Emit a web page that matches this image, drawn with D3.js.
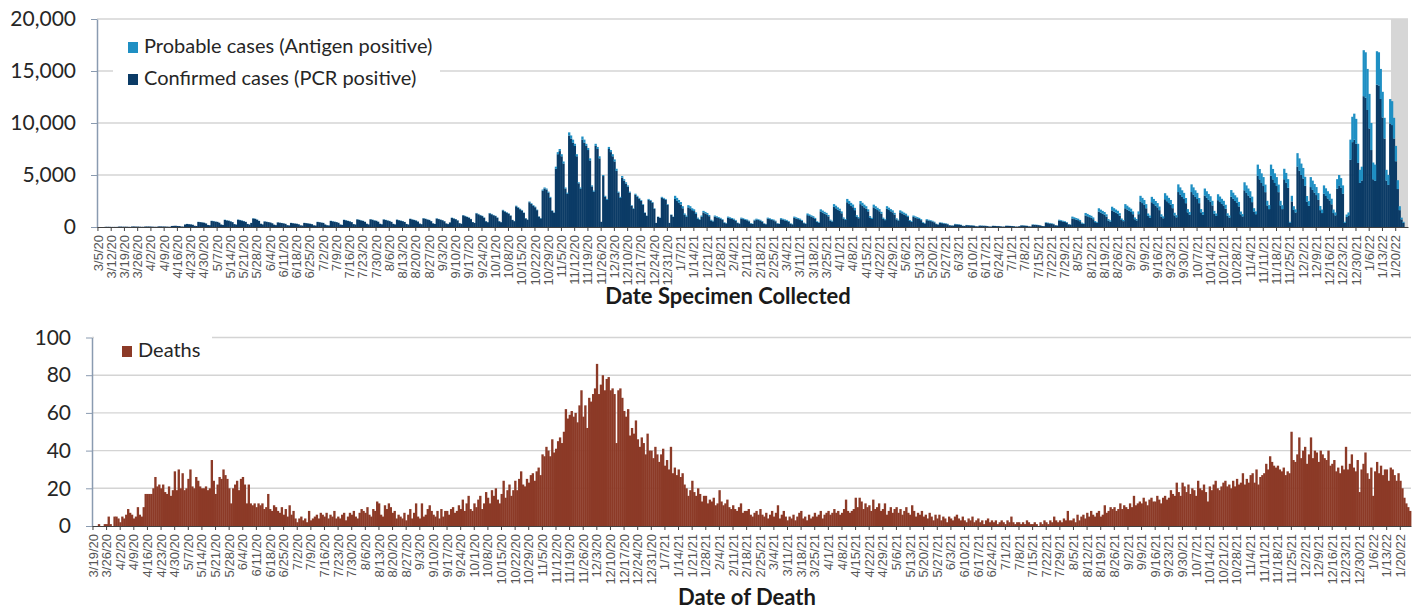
<!DOCTYPE html>
<html>
<head>
<meta charset="utf-8">
<script src="https://cdn.jsdelivr.net/npm/d3@7"></script>
<style>
  body { margin: 0; background: #fff; }
  svg { display: block; }
  text { font-family: Lato, "Open Sans", sans-serif; }
</style>
</head>
<body>
<svg id="chart" width="1414" height="610"></svg>
<script>
// daily cases by date specimen collected, in hundreds of cases
// first line is Thu 3/5/20 - Sun 3/8/20, then one line per week Mon-Sun
const caseStart = new Date(Date.UTC(2020, 2, 5));
const caseAxisEnd = new Date(Date.UTC(2022, 0, 27));
const grayFrom = new Date(Date.UTC(2022, 0, 18));

const confirmed = [
  0,0,0,0,
  0.2,0.2,0.2,0.1,0.1,0.1,0.1,
  0.4,0.4,0.3,0.3,0.3,0.2,0.1,
  0.5,0.5,0.4,0.4,0.3,0.2,0.2,
  0.5,0.5,0.5,0.4,0.3,0.2,0.2,
  0.6,0.6,0.5,0.5,0.4,0.3,0.2,
  1.0,1.1,1.2,1.0,0.9,0.5,0.4,
  2.4,2.9,2.7,2.5,2.1,1.2,1.0,      // 4/20
  4.8,4.7,4.4,4.1,3.4,1.9,1.7,
  5.8,5.6,5.1,4.9,4.1,2.4,1.9,
  6.8,6.3,6.0,5.4,4.7,2.8,2.3,
  7.0,6.6,6.1,5.6,4.9,2.9,2.4,
  3.9,8.2,7.8,7.0,5.8,3.1,2.5,      // 5/25
  5.3,5.0,4.7,4.3,3.6,2.2,1.8,
  4.4,4.1,3.8,3.5,3.0,1.8,1.5,
  3.9,3.6,3.3,3.1,2.6,1.6,1.4,
  3.9,3.7,3.4,3.1,2.7,1.6,1.4,
  4.8,4.6,4.2,3.9,2.4,1.7,1.5,      // 6/29
  5.8,5.4,5.0,4.7,4.0,2.4,2.0,
  6.8,6.4,5.8,5.4,4.7,2.8,2.4,
  7.3,6.8,6.3,5.8,4.9,3.1,2.5,
  7.4,6.9,6.3,5.9,5.0,3.1,2.6,
  7.2,6.7,6.2,5.7,4.9,3.0,2.5,      // 8/3
  7.0,6.5,6.0,5.6,4.8,2.9,2.4,
  7.8,7.2,6.7,6.2,5.2,3.3,2.7,
  8.3,7.8,7.2,6.7,5.6,3.5,2.9,
  8.1,7.6,7.0,6.5,5.5,3.4,2.8,
  4.4,8.7,8.1,7.5,6.3,3.7,3.1,      // 9/7
  11.2,10.4,9.6,8.9,7.6,4.7,3.9,
  13.1,12.2,11.3,10.5,8.9,5.5,4.6,
  13.1,12.2,11.3,10.5,8.9,5.5,4.6,
  16.0,14.8,13.8,12.8,10.9,6.7,5.6, // 10/5
  19.9,18.5,17.1,15.9,13.5,8.3,7.0,
  23.8,22.1,20.5,19.0,16.2,10.0,8.3,
  35,37,36,33,28,15.5,13.6,
  56,70,73,68,61,37,32,             // 11/2
  88,85,81,78,68,42,37,
  84,81,78,74,64,39,34,
  78,75,66,5,49,29,26,
  75,72,68,63,54,33,28,
  47.5,44.6,41.7,38.8,33,20.4,17.5, // 12/7
  31,29,27.2,25.2,21.3,13.6,10.7,
  26.2,25.2,23.3,17.5,3.9,9.7,8.7,
  28.1,27.2,26.2,21.3,3.9,11.6,9.7,
  27,25.2,23.4,21.6,18,11.7,9.9,    // 1/4/21
  18.9,18,16.2,15.3,12.6,8.1,6.8,
  9.9,14,13,12.2,10.4,6.3,5.4,
  9.9,9.3,8.6,7.9,6.8,4.1,3.5,
  9,8.4,7.7,7.2,6.1,3.8,3.2,        // 2/1
  8.1,7.6,6.9,6.5,5.5,3.4,2.9,
  6.3,7.2,6.7,6.2,5.2,3.2,2.7,
  8.1,7.6,6.9,6.5,5.5,3.4,2.9,
  7.5,7,6.4,6,5.1,3.2,2.6,          // 3/1
  8.8,8.2,7.6,7,6,3.7,3.1,
  11.4,10.6,9.9,9.2,7.7,4.8,4,
  15,13.9,12.8,12,10.2,6.2,5.3,
  19.4,18,16.6,15.5,13.2,8.1,6.8,
  23.8,22.1,20.4,19,16.2,9.9,8.4,   // 4/5
  22,20.5,18.9,17.6,15,9.2,7.7,
  18.9,17.6,16.3,15.1,12.8,7.9,6.6,
  17.6,16.4,15.1,14.1,12,7.4,6.2,
  14.1,13.1,12.1,11.3,9.6,5.9,4.9,  // 5/3
  9.7,9,8.4,7.7,6.6,4,3.4,
  6.6,6.2,5.7,5.3,4.5,2.8,2.3,
  4,3.7,3.4,3.2,2.7,1.7,1.4,
  1.3,2.6,2.5,2.3,1.9,1.1,1,
  1.8,1.7,1.5,1.4,1.2,0.7,0.6,      // 6/7
  1.3,1.2,1.1,1.1,0.9,0.5,0.4,
  1.1,1,0.9,0.9,0.7,0.4,0.4,
  1.1,1.1,1,0.9,0.8,0.4,0.4,
  0.8,1.5,1.4,1.2,1.1,0.6,0.5,      // 7/5
  2.2,2,1.9,1.8,1.5,0.9,0.8,
  4,3.7,3.4,3.2,2.7,1.7,1.4,
  6.2,5.7,5.3,4.9,4.2,2.6,2.2,
  8.2,7.6,7.1,6.6,5.6,3.4,2.9,      // 8/2
  11.1,10.3,9.5,8.9,7.5,4.7,3.9,
  14.8,13.7,12.7,11.8,10,6.2,5.2,
  16,14.8,13.8,12.8,10.9,6.7,5.6,
  18,16.8,15.5,14.4,12.3,7.5,6.3,
  12.3,24.6,23,21.3,18,10.7,9,      // 9/6
  23.8,22.1,20.5,18.9,16.2,10,8.4,
  26.7,24.8,23,21.3,18.1,11.2,9.3,
  33.6,31.2,28.9,26.9,22.9,14.1,11.8,
  33.6,31.2,28.9,26.9,22.9,14.1,11.8, // 10/4
  30.3,28.2,26.1,24.3,20.7,12.7,10.7,
  25.8,24,22.2,20.7,17.5,10.8,9,
  29.1,27.1,25,23.3,19.8,12.2,10.2,
  35.3,32.8,30.3,28.2,23.9,14.8,12.3, // 11/1
  49.2,45.8,42.3,39.4,33.5,20.7,17.2,
  49.2,45.8,42.3,39.4,33.5,20.7,17.2,
  45.9,42.6,37.7,4.1,24.6,16.4,13.9,
  58.2,54.1,50,46.6,39.6,24.4,20.4,
  38.4,35.7,33,30.7,26.1,16.2,13.4,   // 12/6
  32,29.8,27.5,25.6,21.8,13.4,11.2,
  36.8,40,37.6,32,4,9.6,11.2,
  64.7,81.6,83.9,80,61.6,42.4,44.7,
  125.8,124.3,112.5,94.7,74,45.9,44.4, // 1/3/22
  136.9,136.1,123.1,105.3,85,44.6,40.5,
  99.6,98,85,63.2,36.5,16.2,7.3,
  4
];

const probable = [
  0,0,0,0,
  0,0,0,0,0,0,0,
  0,0,0,0,0,0,0,
  0,0,0,0,0,0,0,
  0,0,0,0,0,0,0,
  0,0,0,0,0,0,0,
  0,0,0,0,0,0,0,
  0.1,0.1,0.1,0.1,0.1,0,0,          // 4/20
  0.2,0.1,0.1,0.1,0.1,0.1,0.1,
  0.2,0.2,0.2,0.1,0.1,0.1,0.1,
  0.2,0.2,0.2,0.2,0.1,0.1,0.1,
  0.2,0.2,0.2,0.2,0.1,0.1,0.1,
  0.1,0.3,0.2,0.2,0.2,0.1,0.1,      // 5/25
  0.2,0.1,0.1,0.1,0.1,0.1,0.1,
  0.1,0.1,0.1,0.1,0.1,0.1,0.1,
  0.1,0.1,0.1,0.1,0.1,0.1,0,
  0.1,0.1,0.1,0.1,0.1,0.1,0,
  0.2,0.1,0.1,0.1,0.1,0.1,0.1,      // 6/29
  0.2,0.2,0.2,0.1,0.1,0.1,0.1,
  0.2,0.2,0.2,0.2,0.1,0.1,0.1,
  0.2,0.2,0.2,0.2,0.2,0.1,0.1,
  0.2,0.2,0.2,0.2,0.2,0.1,0.1,
  0.2,0.2,0.2,0.2,0.1,0.1,0.1,      // 8/3
  0.2,0.2,0.2,0.2,0.1,0.1,0.1,
  0.2,0.2,0.2,0.2,0.2,0.1,0.1,
  0.3,0.2,0.2,0.2,0.2,0.1,0.1,
  0.3,0.2,0.2,0.2,0.2,0.1,0.1,
  0.1,0.3,0.3,0.2,0.2,0.1,0.1,      // 9/7
  0.3,0.3,0.3,0.3,0.2,0.1,0.1,
  0.4,0.4,0.3,0.3,0.3,0.2,0.1,
  0.4,0.4,0.3,0.3,0.3,0.2,0.1,
  0.5,0.5,0.4,0.4,0.3,0.2,0.2,      // 10/5
  0.6,0.6,0.5,0.5,0.4,0.3,0.2,
  0.7,0.7,0.6,0.6,0.5,0.3,0.3,
  1,1,1,1,1,0.5,0.4,
  2,2,2,2,2,1,1,                    // 11/2
  3,3,3,2,2,1,1,
  3,3,2,2,2,1,1,
  2,2,2,0,1,1,1,
  2,2,2,2,2,1,1,
  1.5,1.4,1.3,1.2,1,0.6,0.5,        // 12/7
  1,1,0.8,0.8,0.7,0.4,0.3,
  0.8,0.8,0.7,0.5,0.1,0.3,0.3,
  0.9,0.8,0.8,0.7,0.1,0.4,0.3,
  3,2.8,2.6,2.4,2,1.3,1.1,          // 1/4/21
  2.1,2,1.8,1.7,1.4,0.9,0.7,
  1.1,1.5,1.5,1.3,1.1,0.7,0.6,
  1.1,1,0.9,0.9,0.7,0.5,0.4,
  1,0.9,0.9,0.8,0.7,0.4,0.3,        // 2/1
  0.9,0.8,0.8,0.7,0.6,0.4,0.3,
  0.7,0.8,0.7,0.7,0.6,0.4,0.3,
  0.9,0.8,0.8,0.7,0.6,0.4,0.3,
  1,0.9,0.9,0.8,0.7,0.4,0.4,        // 3/1
  1.2,1.1,1,1,0.8,0.5,0.4,
  1.6,1.5,1.3,1.2,1.1,0.7,0.6,
  2,1.9,1.8,1.6,1.4,0.9,0.7,
  2.6,2.5,2.3,2.1,1.8,1.1,0.9,
  3.2,3,2.8,2.6,2.2,1.4,1.1,        // 4/5
  3,2.8,2.6,2.4,2,1.3,1.1,
  2.6,2.4,2.2,2.1,1.8,1.1,0.9,
  2.4,2.2,2.1,1.9,1.6,1,0.8,
  1.9,1.8,1.7,1.5,1.3,0.8,0.7,      // 5/3
  1.3,1.2,1.1,1.1,0.9,0.6,0.5,
  0.9,0.8,0.8,0.7,0.6,0.4,0.3,
  0.5,0.5,0.5,0.4,0.4,0.2,0.2,
  0.2,0.4,0.3,0.3,0.3,0.2,0.1,
  0.2,0.2,0.2,0.2,0.2,0.1,0.1,      // 6/7
  0.2,0.2,0.2,0.1,0.1,0.1,0.1,
  0.1,0.1,0.1,0.1,0.1,0.1,0,
  0.2,0.1,0.1,0.1,0.1,0.1,0,
  0.1,0.2,0.2,0.2,0.1,0.1,0.1,      // 7/5
  0.3,0.3,0.3,0.2,0.2,0.1,0.1,
  0.5,0.5,0.5,0.4,0.4,0.2,0.2,
  0.8,0.8,0.7,0.7,0.6,0.3,0.3,
  1.8,1.7,1.5,1.4,1.2,0.8,0.6,      // 8/2
  2.4,2.3,2.1,1.9,1.7,1,0.8,
  3.2,3,2.8,2.6,2.2,1.4,1.1,
  3.5,3.3,3,2.8,2.4,1.5,1.2,
  4,3.7,3.4,3.2,2.7,1.7,1.4,
  2.7,5.4,5,4.7,4,2.3,2,            // 9/6
  5.2,4.9,4.5,4.1,3.5,2.2,1.8,
  5.8,5.4,5,4.7,4,2.5,2.1,
  7.4,6.9,6.4,5.9,5,3.1,2.6,
  7.4,6.9,6.4,5.9,5,3.1,2.6,        // 10/4
  6.7,6.2,5.7,5.3,4.5,2.8,2.3,
  5.7,5.3,4.9,4.5,3.9,2.4,2,
  6.4,5.9,5.5,5.1,4.3,2.7,2.2,
  7.7,7.2,6.7,6.2,5.3,3.3,2.7,      // 11/1
  10.8,10,9.3,8.6,7.3,4.5,3.8,
  10.8,10,9.3,8.6,7.3,4.5,3.8,
  10.1,9.4,8.3,0.9,5.4,3.6,3.1,
  12.8,11.9,11,10.2,8.7,5.4,4.5,
  9.6,8.9,8.3,7.7,6.5,4,3.4,        // 12/6
  8,7.4,6.9,6.4,5.4,3.4,2.8,
  9.2,10,9.4,8,1,2.4,2.8,
  19.3,24.4,25.1,24,18.4,12.6,13.3,
  44.2,43.7,39.5,33.3,26,16.1,15.6, // 1/3/22
  32.1,31.9,28.9,24.7,20,10.4,9.5,
  23.4,23,20,14.8,8.5,3.8,1.7,
  1
];

// daily deaths by date of death, one line per week Thu-Wed from 3/19/20
const deathStart = new Date(Date.UTC(2020, 2, 19));
const deathAxisEnd = new Date(Date.UTC(2022, 0, 26));

const deaths = [
  0,0,0,1,0,0,1,
  1,5,1,0,5,5,4,
  2,5,4,6,9,7,6,
  4,5,10,6,5,10,17,
  17,17,17,20,26,21,22,      // 4/16/20
  20,22,18,17,21,16,19,
  29,19,30,20,28,19,20,
  25,30,21,20,26,24,21,
  20,20,21,19,20,35,24,      // 5/14
  17,22,26,25,30,27,25,
  20,12,20,22,24,19,25,
  26,22,12,22,12,11,12,
  10,12,11,12,9,10,17,       // 6/11
  9,8,11,10,8,7,10,
  6,9,5,11,6,8,4,
  2,4,5,3,4,2,8,
  3,4,5,6,4,7,6,             // 7/9
  5,7,4,6,5,8,4,
  5,4,6,7,3,5,7,
  6,8,5,4,7,9,8,
  7,10,6,5,9,8,13,           // 8/6
  12,6,5,11,9,12,10,
  7,8,4,6,5,4,7,
  3,6,9,4,7,12,5,
  4,12,5,6,9,11,8,           // 9/3
  6,5,8,4,9,5,8,
  8,6,9,10,7,8,11,
  9,14,8,12,16,9,8,
  12,10,14,16,9,12,18,       // 10/1
  15,12,19,16,20,14,12,
  17,24,15,19,22,16,19,
  24,19,25,29,22,21,25,
  23,27,28,24,29,31,27,      // 10/29
  38,37,42,40,37,46,39,
  41,45,47,44,50,62,57,
  59,61,58,60,55,64,72,
  58,64,52,68,66,70,73,      // 11/26
  86,70,75,80,72,78,79,
  72,73,70,44,72,73,68,
  61,58,62,48,52,49,56,
  46,42,47,44,38,49,40,      // 12/24
  40,36,42,38,34,38,41,
  32,35,30,42,28,31,27,
  30,26,28,22,20,16,19,
  24,18,16,20,17,13,16,      // 1/21/21
  16,12,14,13,15,11,12,
  19,13,11,12,14,10,9,
  11,9,8,10,12,7,8,
  8,9,6,5,7,8,6,             // 2/18
  9,6,5,7,4,6,8,
  5,7,11,4,6,8,5,
  3,5,4,6,3,5,7,
  8,4,5,3,6,4,5,             // 3/18
  7,5,6,8,4,6,7,
  8,6,7,9,7,8,6,
  7,9,14,8,7,8,9,
  15,10,15,13,9,12,10,       // 4/15
  11,8,14,9,10,12,8,
  9,12,6,8,10,7,9,
  10,7,9,6,8,10,7,
  6,11,8,5,7,6,8,            // 5/13
  5,6,4,7,5,3,6,
  4,6,3,5,4,2,5,
  4,3,5,6,4,3,5,
  3,2,4,3,5,2,3,             // 6/10
  4,2,3,1,3,4,2,
  3,2,3,1,2,3,2,
  1,3,2,5,2,1,2,
  2,1,2,1,3,2,1,             // 7/8
  1,2,1,0,2,1,3,
  2,1,3,2,5,3,2,
  3,2,4,3,8,3,3,
  4,2,6,3,5,6,4,             // 8/5
  7,5,8,6,5,7,8,
  5,6,11,7,8,10,9,
  10,8,9,12,9,11,10,
  9,12,10,16,11,12,13,       // 9/2
  12,15,13,11,14,15,13,
  13,16,14,12,15,16,14,
  15,19,17,16,23,18,16,
  23,21,18,22,17,20,19,      // 9/30
  16,24,20,19,22,18,13,
  21,19,22,24,20,19,21,
  23,24,21,22,20,24,21,
  25,22,23,28,22,25,23,      // 10/28
  27,28,23,30,22,26,27,
  28,33,30,37,34,32,31,
  32,30,29,31,27,29,28,
  50,35,34,38,47,36,40,      // 11/25
  42,33,38,47,36,40,39,
  34,40,38,36,35,40,32,
  33,35,29,31,28,32,30,
  42,30,33,38,31,29,35,      // 12/23
  18,30,33,39,28,25,31,
  16,29,34,28,32,27,30,
  30,24,31,30,27,24,28,
  24,20,15,12,10,8           // 1/20/22
];

const caseTicks = [0, 5000, 10000, 15000, 20000];
const deathTicks = [0, 20, 40, 60, 80, 100];
const caseLegend = ["Probable cases (Antigen positive)", "Confirmed cases (PCR positive)"];
const deathLegend = ["Deaths"];

const navy = "#0b3b66", lightBlue = "#1f8fc3", brick = "#8c3a27";
const fmtDate = d3.utcFormat("%-m/%-d/%y");
const svg = d3.select("#chart");

function drawPanel(o) {
  const days = d3.utcDay.range(o.start, o.axisEnd);
  const x = d3.scaleBand().domain(d3.range(days.length)).range([o.left, o.right]).padding(0);
  const y = d3.scaleLinear().domain([0, o.yMax]).range([o.bottom, o.top]);
  const g = svg.append("g");

  // grid
  g.selectAll(".grid").data(o.ticks.slice(1)).join("line")
    .attr("x1", o.left).attr("x2", o.right)
    .attr("y1", d => y(d)).attr("y2", d => y(d))
    .attr("stroke", "#d4d4d4").attr("stroke-width", 1.4);

  if (o.grayFrom) {
    const gi = d3.utcDay.count(o.start, o.grayFrom);
    g.append("rect").attr("x", x(gi)).attr("y", o.top)
      .attr("width", o.right - x(gi)).attr("height", o.bottom - o.top)
      .attr("fill", "#d6d6d6");
  }

  // legend box hides the grid under the legend
  g.append("rect").attr("x", o.legBox[0]).attr("y", o.legBox[1])
    .attr("width", o.legBox[2]).attr("height", o.legBox[3]).attr("fill", "#fff");

  const rows = o.series[0].values.map((v, i) => {
    const r = { i: i };
    o.series.forEach(s => r[s.key] = s.values[i] * s.unit);
    return r;
  });
  const stack = d3.stack().keys(o.series.map(s => s.key))(rows);

  g.selectAll(".layer").data(stack).join("g")
    .attr("fill", (d, k) => o.series[k].color)
    .selectAll("rect").data(d => d).join("rect")
      .attr("x", d => x(d.data.i))
      .attr("width", x.bandwidth() + 0.4)
      .attr("y", d => y(d[1]))
      .attr("height", d => Math.max(0, y(d[0]) - y(d[1])));

  // y axis
  const ya = g.append("g").attr("transform", `translate(${o.left},0)`)
    .call(d3.axisLeft(y).tickValues(o.ticks).tickSize(6).tickSizeOuter(0)
      .tickPadding(o.yPad).tickFormat(d3.format(",")));
  ya.select(".domain").attr("stroke", "#8a9bb0").attr("stroke-width", 1.5);
  ya.selectAll(".tick line").attr("stroke", "#8a9bb0");
  ya.selectAll(".tick text").attr("fill", "#262626").style("font-size", "21px")
    .style("font-family", "Lato, sans-serif");

  // x axis, one label per week
  const weekly = d3.range(0, days.length - 3, 7);
  const xa = g.append("g").attr("transform", `translate(0,${o.bottom})`)
    .call(d3.axisBottom(x).tickValues(weekly).tickSize(4).tickSizeOuter(0)
      .tickFormat(i => fmtDate(days[i])));
  xa.select(".domain").attr("stroke", "#404040").attr("stroke-width", 1.2);
  xa.selectAll(".tick line").attr("stroke", "#404040");
  xa.selectAll(".tick text")
    .attr("transform", "rotate(-90)")
    .attr("x", -8).attr("y", 0).attr("dy", "0.35em")
    .style("text-anchor", "end")
    .style("font-family", "'Liberation Sans', Arial, sans-serif")
    .style("font-size", "13px")
    .attr("fill", "#555");

  g.append("text").attr("x", o.titleX).attr("y", o.titleY)
    .attr("text-anchor", "middle").style("font-weight", "bold")
    .style("font-size", "22px").attr("fill", "#1a1a1a").text(o.title);

  // legend, in the order shown (top entry first)
  o.legend.forEach((lab, k) => {
    const s = o.series.find(s => s.label === lab);
    const ly = o.legY + k * 32;
    g.append("rect").attr("x", o.legX).attr("y", ly - 11).attr("width", 10).attr("height", 11)
      .attr("fill", s.color);
    g.append("text").attr("x", o.legX + 16).attr("y", ly)
      .style("font-size", "20px").attr("fill", "#262626").text(lab);
  });
}

drawPanel({
  start: caseStart, axisEnd: caseAxisEnd, grayFrom: grayFrom,
  left: 97, right: 1408, top: 19, bottom: 227, yMax: 20000, ticks: caseTicks, yPad: 15,
  series: [
    { key: "confirmed", values: confirmed, unit: 100, color: navy, label: caseLegend[1] },
    { key: "probable", values: probable, unit: 100, color: lightBlue, label: caseLegend[0] }
  ],
  legend: caseLegend, legX: 128, legY: 53, legBox: [113, 26, 327, 70],
  title: "Date Specimen Collected", titleX: 728, titleY: 304
});

drawPanel({
  start: deathStart, axisEnd: deathAxisEnd,
  left: 92, right: 1411, top: 337.5, bottom: 526, yMax: 100, ticks: deathTicks, yPad: 15,
  series: [
    { key: "deaths", values: deaths, unit: 1, color: brick, label: deathLegend[0] }
  ],
  legend: deathLegend, legX: 122, legY: 357, legBox: [94, 330, 118, 36],
  title: "Date of Death", titleX: 747, titleY: 605
});
</script>
</body>
</html>
